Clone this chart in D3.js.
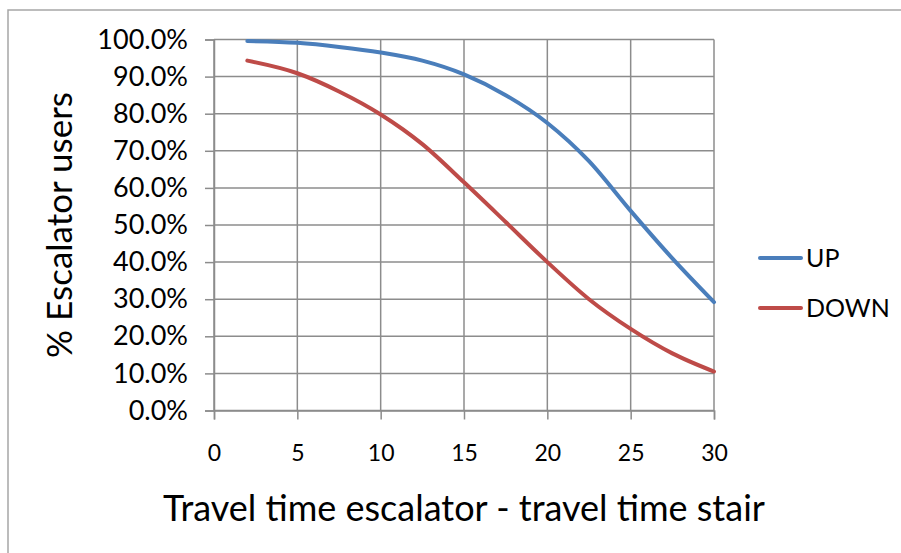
<!DOCTYPE html>
<html>
<head>
<meta charset="utf-8">
<script src="https://cdn.jsdelivr.net/npm/d3@7"></script>
<style>
  html, body { margin: 0; padding: 0; background: #fff; }
  svg { display: block; }
  text { font-family: Lato, "Open Sans", sans-serif; fill: #000; }
</style>
</head>
<body>
<svg id="chart" width="901" height="553"></svg>
<script>
// Travel time difference (escalator minus stair)
const timeDiff = [2, 5, 7.5, 10, 12.5, 15, 17.5, 20, 22.5, 25, 27.5, 30];
// Share of people choosing the escalator, going up
const upShare = [0.996, 0.991, 0.980, 0.965, 0.943, 0.906, 0.850, 0.775, 0.672, 0.538, 0.410, 0.292];
// Share of people choosing the escalator, going down
const downShare = [0.943, 0.909, 0.860, 0.798, 0.718, 0.615, 0.508, 0.400, 0.300, 0.220, 0.154, 0.105];
const xTicks = [0, 5, 10, 15, 20, 25, 30];
const yTicks = [0, 0.1, 0.2, 0.3, 0.4, 0.5, 0.6, 0.7, 0.8, 0.9, 1.0];
const seriesNames = ["UP", "DOWN"];
const seriesColors = ["#4a7ebb", "#be4b48"];

const svg = d3.select("#chart");
const gridColor = "#8c8c8c";

// Outer chart frame
svg.append("rect")
  .attr("x", 8).attr("y", 10)
  .attr("width", 960).attr("height", 600)
  .attr("fill", "none").attr("stroke", "#a6a6a6").attr("stroke-width", 1.5);

const x = d3.scaleLinear().domain([0, 30]).range([214, 714]);
const y = d3.scaleLinear().domain([0, 1]).range([410.5, 39.5]);

// Horizontal gridlines
svg.append("g")
  .selectAll("line").data(yTicks).join("line")
  .attr("x1", x(0)).attr("x2", x(30))
  .attr("y1", d => y(d)).attr("y2", d => y(d))
  .attr("stroke", gridColor).attr("stroke-width", 1.5);

// Vertical gridlines
svg.append("g")
  .selectAll("line").data(xTicks).join("line")
  .attr("x1", d => x(d)).attr("x2", d => x(d))
  .attr("y1", y(1)).attr("y2", y(0))
  .attr("stroke", gridColor).attr("stroke-width", 1.5);

// Y axis
const yAxis = d3.axisLeft(y).tickValues(yTicks)
  .tickFormat(d3.format(".1%")).tickSize(9).tickPadding(17);
const gy = svg.append("g").attr("transform", `translate(${x(0)},0)`).call(yAxis);
gy.select(".domain").attr("stroke", gridColor).attr("stroke-width", 1.5);
gy.selectAll(".tick line").attr("stroke", gridColor).attr("stroke-width", 1.5);
gy.selectAll(".tick text").style("font-size", "27px").attr("fill", "#000");

// X axis
const xAxis = d3.axisBottom(x).tickValues(xTicks).tickSize(9).tickPadding(25);
const gx = svg.append("g").attr("transform", `translate(0,${y(0)})`).call(xAxis);
gx.select(".domain").attr("stroke", gridColor).attr("stroke-width", 1.5);
gx.selectAll(".tick line").attr("stroke", gridColor).attr("stroke-width", 1.5);
gx.selectAll(".tick text").style("font-size", "23px").attr("fill", "#000");

// Curves
const line = d3.line()
  .x(d => x(d[0])).y(d => y(d[1]))
  .curve(d3.curveMonotoneX);
[upShare, downShare].forEach((vals, i) => {
  svg.append("path")
    .datum(timeDiff.map((t, j) => [t, vals[j]]))
    .attr("d", line)
    .attr("fill", "none")
    .attr("stroke", seriesColors[i])
    .attr("stroke-width", 4)
    .attr("stroke-linecap", "round");
});

// Legend
seriesNames.forEach((name, i) => {
  const ly = 258 + i * 50;
  svg.append("line")
    .attr("x1", 760).attr("x2", 801).attr("y1", ly).attr("y2", ly)
    .attr("stroke", seriesColors[i]).attr("stroke-width", 4)
    .attr("stroke-linecap", "round");
  svg.append("text")
    .attr("x", 806).attr("y", ly)
    .attr("dy", "0.36em")
    .style("font-size", "25px")
    .text(name);
});

// Axis titles
svg.append("text")
  .attr("x", (x(0) + x(30)) / 2).attr("y", 508)
  .attr("text-anchor", "middle").attr("dy", "0.36em")
  .style("font-size", "36px")
  .text("Travel time escalator - travel time stair");

svg.append("text")
  .attr("transform", `translate(59,${(y(0) + y(1)) / 2}) rotate(-90)`)
  .attr("text-anchor", "middle").attr("dy", "0.36em")
  .style("font-size", "35px")
  .text("% Escalator users");
</script>
</body>
</html>
